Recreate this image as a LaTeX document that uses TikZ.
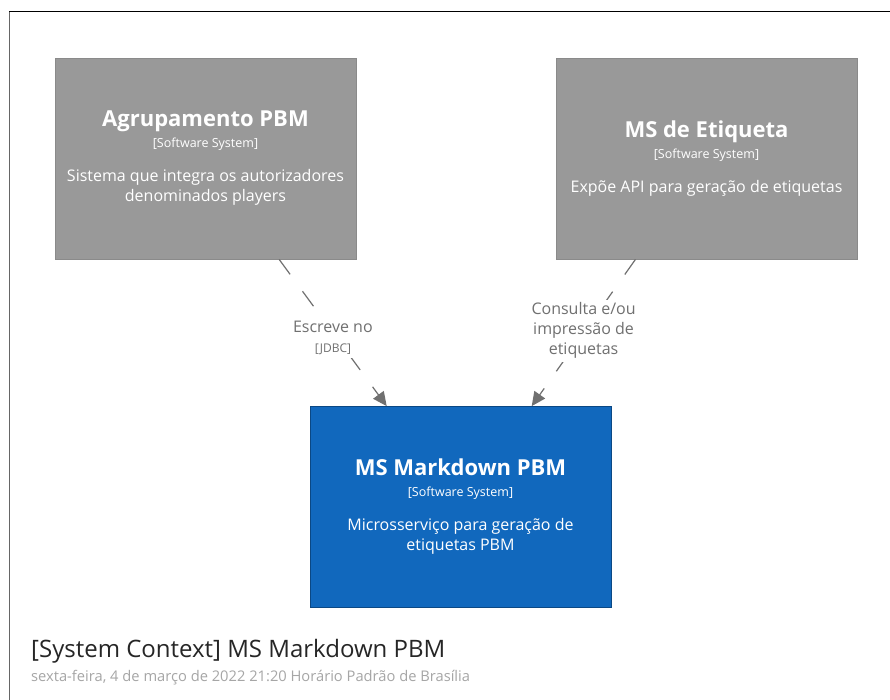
\documentclass[tikz,border=0pt]{standalone}
\usepackage{fontspec}
\setmainfont{Open Sans}
\usetikzlibrary{arrows.meta}
\definecolor{extgray}{HTML}{999999}
\definecolor{extborder}{HTML}{8A8A8A}
\definecolor{sysblue}{HTML}{1168BD}
\definecolor{sysborder}{HTML}{0B4884}
\definecolor{relgray}{HTML}{707070}
\definecolor{datagray}{HTML}{A6A6A6}
\newcommand{\sysname}[1]{{\fontsize{22}{26}\selectfont\bfseries #1}}
\newcommand{\systype}[1]{{\fontsize{12.5}{15}\selectfont #1}}
\begin{document}
\begin{tikzpicture}[x=1pt,y=-1pt,
  system/.style={draw=extborder, fill=extgray, text=white, line width=0.8pt,
    minimum width=301pt, minimum height=201pt, inner sep=0pt, align=center,
    font=\fontsize{16}{20}\selectfont},
  internal/.style={system, draw=sysborder, fill=sysblue},
  rel/.style={draw=relgray, line width=1.2pt, dash pattern=on 18.5pt off 21pt,
    -{Triangle[length=14pt,width=13pt]}},
  rellabel/.style={fill=white, text=relgray, align=center, inner sep=3pt,
    font=\fontsize{16}{20}\selectfont}
]
\useasboundingbox (0,0) rectangle (890,700);
\fill[white] (0,0) rectangle (890,700);

% diagram frame
\draw[black, line width=1pt] (9,12) -- (890,12);
\draw[black!60, line width=1pt] (9,12) -- (9,700);

% software systems
\node[system] (agr) at (205.5,158.5) {%
  \sysname{Agrupamento PBM}\\[1pt]
  \systype{[Software System]}\\[14pt]
  Sistema que integra os autorizadores\\
  denominados players};

\node[system] (etq) at (706.5,158.5) {%
  \sysname{MS de Etiqueta}\\[1pt]
  \systype{[Software System]}\\[14pt]
  Expõe API para geração de etiquetas};

\node[internal] (msm) at (460.5,507) {%
  \sysname{MS Markdown PBM}\\[1pt]
  \systype{[Software System]}\\[14pt]
  Microsserviço para geração de\\
  etiquetas PBM};

% relationships
\draw[rel] (agr) -- node[rellabel, yshift=-5pt] (l1) {Escreve no\\[0pt]{\fontsize{12}{14}\selectfont [JDBC]}} (msm);
\draw[rel] (etq) -- node[rellabel, yshift=2pt] (l2) {Consulta e/ou\\impressão de\\etiquetas} (msm);

% title block
\node[anchor=base west, inner sep=0pt, text=black!85, font=\fontsize{24}{28}\selectfont] (title) at (31,657) {[System Context] MS Markdown PBM};
\node[anchor=base west, inner sep=0pt, text=datagray, font=\fontsize{14.7}{18}\selectfont] (date) at (31,681) {sexta-feira, 4 de março de 2022 21:20 Horário Padrão de Brasília};
\end{tikzpicture}
\end{document}
